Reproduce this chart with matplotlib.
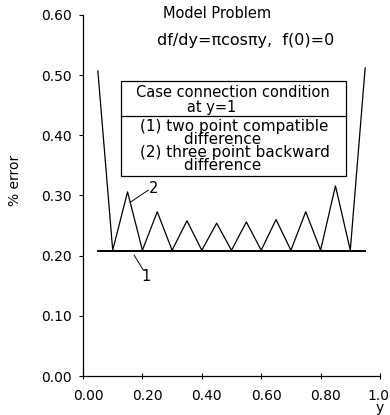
import matplotlib
matplotlib.use("Agg")
import matplotlib.pyplot as plt
import matplotlib.transforms as mtransforms
from matplotlib.patches import Rectangle

# grid points along y and % error for the two connection conditions
y_pos = [0.05, 0.10, 0.15, 0.20, 0.25, 0.30, 0.35, 0.40, 0.45, 0.50,
         0.55, 0.60, 0.65, 0.70, 0.75, 0.80, 0.85, 0.90, 0.95]
err_two_point = [0.208, 0.208, 0.208, 0.208, 0.208, 0.208, 0.208, 0.208, 0.208, 0.208,
                 0.208, 0.208, 0.208, 0.208, 0.208, 0.208, 0.208, 0.208, 0.208]
err_three_point = [0.507, 0.209, 0.306, 0.209, 0.273, 0.209, 0.258, 0.209, 0.254, 0.209,
                   0.256, 0.209, 0.260, 0.209, 0.273, 0.209, 0.316, 0.209, 0.512]

x_ticks = [0.0, 0.2, 0.4, 0.6, 0.8, 1.0]
x_tick_labels = ["0.00", "0.20", "0.40", "0.60", "0.80", "1.0"]
y_ticks = [0.0, 0.1, 0.2, 0.3, 0.4, 0.5, 0.6]
y_tick_labels = ["0.00", "0.10", "0.20", "0.30", "0.40", "0.50", "0.60"]

box_head = ["Case connection condition", "at y=1"]
box_cases = ["(1) two point compatible", "difference",
             "(2) three point backward", "difference"]

plt.rcParams["font.family"] = ["DejaVu Sans"]
plt.rcParams["font.size"] = 10

W, H = 390, 415
fig = plt.figure(figsize=(W / 100, H / 100), dpi=100)
ax = fig.add_axes([83 / W, 39 / H, 297 / W, 361 / H])

ax.plot(y_pos, err_two_point, color="black", lw=1.4)
ax.plot(y_pos, err_three_point, color="black", lw=0.9)

ax.set_xlim(0, 1.0)
ax.set_ylim(0, 0.6)
ax.spines["top"].set_visible(False)
ax.spines["right"].set_visible(False)
for s in ("left", "bottom"):
    ax.spines[s].set_linewidth(0.9)

ax.set_xticks(x_ticks)
ax.set_xticklabels(x_tick_labels)
ax.set_yticks(y_ticks)
ax.set_yticklabels(y_tick_labels)
ax.tick_params(axis="y", direction="out", length=3, width=0.8, pad=5)
ax.tick_params(axis="x", direction="inout", length=4, width=0.8, pad=7)

# tick labels in the original sit a little right of their ticks
xlabs = ax.get_xticklabels()
for lab in xlabs[:-1]:
    lab.set_transform(lab.get_transform() +
                      mtransforms.ScaledTranslation(5 / 100, 0, fig.dpi_scale_trans))
xlabs[-1].set_transform(xlabs[-1].get_transform() +
                        mtransforms.ScaledTranslation(-2 / 100, 0, fig.dpi_scale_trans))

fig.text(15 / W, 1 - 180 / H, "% error", rotation=90, ha="center", va="center")
fig.text(380 / W, 1 - 408 / H, "y", ha="center", va="center")

# titles
ax.text(0.268, 0.6025, "Model Problem", ha="left", va="center", fontsize=10.5, clip_on=False)
ax.text(0.250, 0.557, "df/dy=\u03c0cos\u03c0y,  f(0)=0", ha="left", va="center", fontsize=11.5)

# legend box, second lines indented as in the original
ax.add_patch(Rectangle((0.128, 0.3327), 0.7565, 0.1573, fill=False, lw=0.9, color="black"))
ax.plot([0.128, 0.8845], [0.4324, 0.4324], color="black", lw=0.9)
ax.text(0.1774, 0.4593, box_head[0] + "\n" + " " * 11 + box_head[1],
        ha="left", va="center", multialignment="left", fontsize=10.5, linespacing=1.0)
ax.text(0.1914, 0.3823,
        "\n".join([box_cases[0], " " * 9 + box_cases[1],
                   box_cases[2], " " * 9 + box_cases[3]]),
        ha="left", va="center", multialignment="left", fontsize=11, linespacing=0.85)

# curve labels with leaders
ax.plot([0.160, 0.220], [0.289, 0.309], color="black", lw=0.7)
ax.text(0.237, 0.312, "2", ha="center", va="center", fontsize=10.5)
ax.plot([0.172, 0.203], [0.201, 0.176], color="black", lw=0.7)
ax.text(0.212, 0.165, "1", ha="center", va="center", fontsize=10.5)

fig.savefig("out.png", dpi=100)
